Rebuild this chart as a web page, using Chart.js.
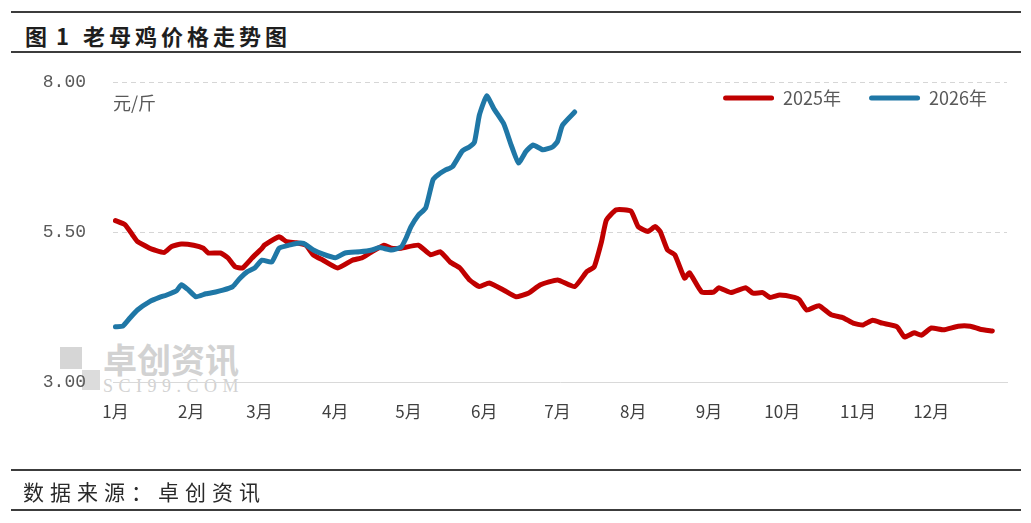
<!DOCTYPE html>
<html>
<head>
<meta charset="utf-8">
<script src="https://cdn.jsdelivr.net/npm/chart.js@4.4.1/dist/chart.umd.min.js"></script>
<style>
  html, body { margin: 0; padding: 0; background: #fff; }
  body { width: 1031px; height: 523px; position: relative; overflow: hidden; font-family: "Noto Sans CJK SC", sans-serif; }
  .rule { position: absolute; left: 11px; width: 1010px; height: 2px; background: #3c3c3c; }
  #title { position: absolute; left: 25px; top: 19px; line-height: 32px; font-size: 22px; font-weight: bold; letter-spacing: 4px; color: #1e1e1e; white-space: nowrap; }
  #source { position: absolute; left: 23px; top: 476px; line-height: 30px; font-size: 21px; letter-spacing: 6px; color: #2a2a2a; white-space: nowrap; }
  .wm { position: absolute; color: #d2d2d2; white-space: nowrap; }
  #wmBox1 { position: absolute; left: 60px; top: 347px; width: 22px; height: 22px; background: #d6d6d6; }
  #wmBox2 { position: absolute; left: 82px; top: 370px; width: 18px; height: 20px; background: #dcdcdc; }
  #wrap { position: absolute; left: 0; top: 0; width: 1031px; height: 523px; }
</style>
</head>
<body>
<div class="rule" style="top:11px"></div>
<div id="title">图<span style="margin:0 10px 0 5px">1</span>老母鸡价格走势图</div>
<div class="rule" style="top:51px"></div>

<div id="wmBox1"></div>
<div id="wmBox2"></div>
<div class="wm" style="left:103px;top:338px;font-size:34px;font-weight:bold;line-height:42px;">卓创资讯</div>
<div class="wm" style="left:103px;top:377px;font-size:18px;font-family:'Liberation Serif',serif;letter-spacing:5.5px;line-height:18px;">SCI99.COM</div>

<div id="wrap"><canvas id="chart" width="1031" height="523"></canvas></div>

<div class="rule" style="top:469px"></div>
<div id="source">数据来源：卓创资讯</div>
<div class="rule" style="top:509px"></div>

<script>
// month ticks (day of year) and labels
const monthStarts = [0, 31, 59, 90, 120, 151, 181, 212, 243, 273, 304, 334];
const monthLabels = ['1月', '2月', '3月', '4月', '5月', '6月', '7月', '8月', '9月', '10月', '11月', '12月'];
const yTicks = [3, 5.5, 8];

// 2025年 (day of year, 元/斤)
const days2025 = [0, 4, 7, 9, 14, 16, 20, 23, 27, 32, 36, 38, 43, 46, 49, 52, 56, 60, 61, 67,
  70, 74, 78, 81, 85, 91, 97, 101, 105, 110, 113, 117, 124, 129, 133, 137, 141, 145, 149, 153,
  159, 164, 169, 174, 181, 188, 193, 196, 199, 201, 205, 211, 214, 218, 221, 223, 226, 229, 233, 235,
  240, 245, 247, 252, 258, 261, 265, 268, 272, 278, 280, 283, 288, 293, 298, 302, 306, 310, 314, 320,
  323, 327, 330, 334, 339, 345, 350, 354, 359];
const price2025 = [5.69, 5.62, 5.45, 5.34, 5.23, 5.20, 5.16, 5.26, 5.30, 5.28, 5.23, 5.15, 5.15, 5.07, 4.92, 4.90, 5.07, 5.23, 5.28, 5.42,
  5.34, 5.32, 5.28, 5.12, 5.03, 4.90, 5.03, 5.07, 5.17, 5.28, 5.23, 5.23, 5.28, 5.12, 5.17, 5.00, 4.90, 4.70, 4.59, 4.65,
  4.53, 4.42, 4.48, 4.62, 4.70, 4.59, 4.84, 4.92, 5.34, 5.70, 5.87, 5.85, 5.59, 5.51, 5.59, 5.51, 5.20, 5.12, 4.73, 4.82,
  4.50, 4.50, 4.57, 4.49, 4.57, 4.48, 4.49, 4.41, 4.45, 4.41, 4.37, 4.20, 4.27, 4.12, 4.07, 3.98, 3.95, 4.03, 3.98, 3.92,
  3.75, 3.82, 3.78, 3.90, 3.87, 3.93, 3.93, 3.88, 3.85];

// 2026年
const days2026 = [0, 3, 6, 9, 14, 18, 21, 25, 27, 30, 33, 37, 41, 44, 48, 51, 54, 57, 60, 64,
  67, 71, 74, 77, 81, 85, 90, 94, 100, 105, 108, 113, 117, 119, 121, 124, 127, 130, 132, 135,
  138, 142, 145, 147, 149, 152, 155, 159, 162, 165, 168, 171, 175, 179, 181, 183, 188];
const price2026 = [3.92, 3.93, 4.07, 4.20, 4.34, 4.41, 4.45, 4.52, 4.62, 4.53, 4.42, 4.47, 4.50, 4.53, 4.59, 4.73, 4.84, 4.90, 5.03, 5.00,
  5.23, 5.28, 5.31, 5.31, 5.20, 5.13, 5.07, 5.15, 5.17, 5.20, 5.24, 5.20, 5.25, 5.40, 5.59, 5.78, 5.90, 6.37, 6.45, 6.53,
  6.59, 6.85, 6.92, 7.00, 7.45, 7.77, 7.55, 7.30, 6.95, 6.65, 6.84, 6.95, 6.87, 6.92, 7.01, 7.28, 7.50];

const toPoints = (xs, ys) => xs.map((x, i) => ({ x, y: ys[i] }));

// unit label in the top-left corner of the plot
const unitLabel = {
    id: 'unitLabel',
    afterDatasetsDraw(chart) {
        const { ctx, chartArea } = chart;
        ctx.save();
        ctx.font = '18px "Noto Sans CJK SC", sans-serif';
        ctx.fillStyle = '#595959';
        ctx.textBaseline = 'middle';
        ctx.fillText('元/斤', chartArea.left, chartArea.top + 21);
        ctx.restore();
    }
};

// push the top legend down into the plot area
const legendInside = {
    id: 'legendInside',
    afterLayout(chart) {
        const lg = chart.legend;
        const h = lg.bottom - lg.top;
        lg.top = 61;
        lg.bottom = lg.top + h;
        lg.left += 8;
        lg.right += 8;
    }
};

new Chart(document.getElementById('chart').getContext('2d'), {
    type: 'line',
    data: {
        datasets: [
            {
                label: '2025年',
                data: toPoints(days2025, price2025),
                borderColor: '#C00000',
                backgroundColor: '#C00000',
                borderWidth: 5,
                pointRadius: 0,
                tension: 0.15,
                borderCapStyle: 'round',
                borderJoinStyle: 'round',
                order: 2
            },
            {
                label: '2026年',
                data: toPoints(days2026, price2026),
                borderColor: '#1F77A6',
                backgroundColor: '#1F77A6',
                borderWidth: 5,
                pointRadius: 0,
                tension: 0.15,
                borderCapStyle: 'round',
                borderJoinStyle: 'round',
                order: 1
            }
        ]
    },
    options: {
        responsive: false,
        animation: false,
        events: [],
        layout: { padding: { top: 26, right: 24, left: 0, bottom: 0 } },
        plugins: {
            tooltip: { enabled: false },
            legend: {
                position: 'top',
                align: 'end',
                labels: {
                    boxWidth: 51,
                    boxHeight: 5,
                    padding: 28,
                    useBorderRadius: true,
                    borderRadius: 2.5,
                    color: '#595959',
                    font: { size: 18, family: '"Noto Sans CJK SC", sans-serif' },
                    sort: (a, b) => a.datasetIndex - b.datasetIndex,
                    generateLabels: chart => Chart.defaults.plugins.legend.labels.generateLabels(chart)
                        .map(l => ({ ...l, lineWidth: 0 }))
                }
            }
        },
        scales: {
            x: {
                type: 'linear',
                min: -1,
                max: 365,
                afterBuildTicks: s => { s.ticks = monthStarts.map(v => ({ value: v })); },
                afterFit: s => { s.height = 141; },
                grid: { display: false, drawTicks: false },
                border: { display: true, color: '#d9d9d9', width: 1 },
                ticks: {
                    autoSkip: false,
                    maxRotation: 0,
                    padding: 19,
                    color: '#404040',
                    font: { size: 17, family: '"Noto Sans CJK SC", sans-serif' },
                    callback: v => monthLabels[monthStarts.indexOf(v)]
                }
            },
            y: {
                min: 3,
                max: 8,
                afterBuildTicks: s => { s.ticks = yTicks.map(v => ({ value: v })); },
                afterFit: s => { s.width = 113; },
                grid: {
                    drawTicks: false,
                    color: c => (c.tick && c.tick.value === 3) ? 'rgba(0,0,0,0)' : '#d6d6d6'
                },
                border: { display: false, dash: [5, 4] },
                ticks: {
                    padding: 27,
                    color: '#595959',
                    font: { size: 18, family: '"Liberation Mono", monospace' },
                    callback: v => v.toFixed(2)
                }
            }
        }
    },
    plugins: [unitLabel, legendInside]
});
</script>
</body>
</html>
